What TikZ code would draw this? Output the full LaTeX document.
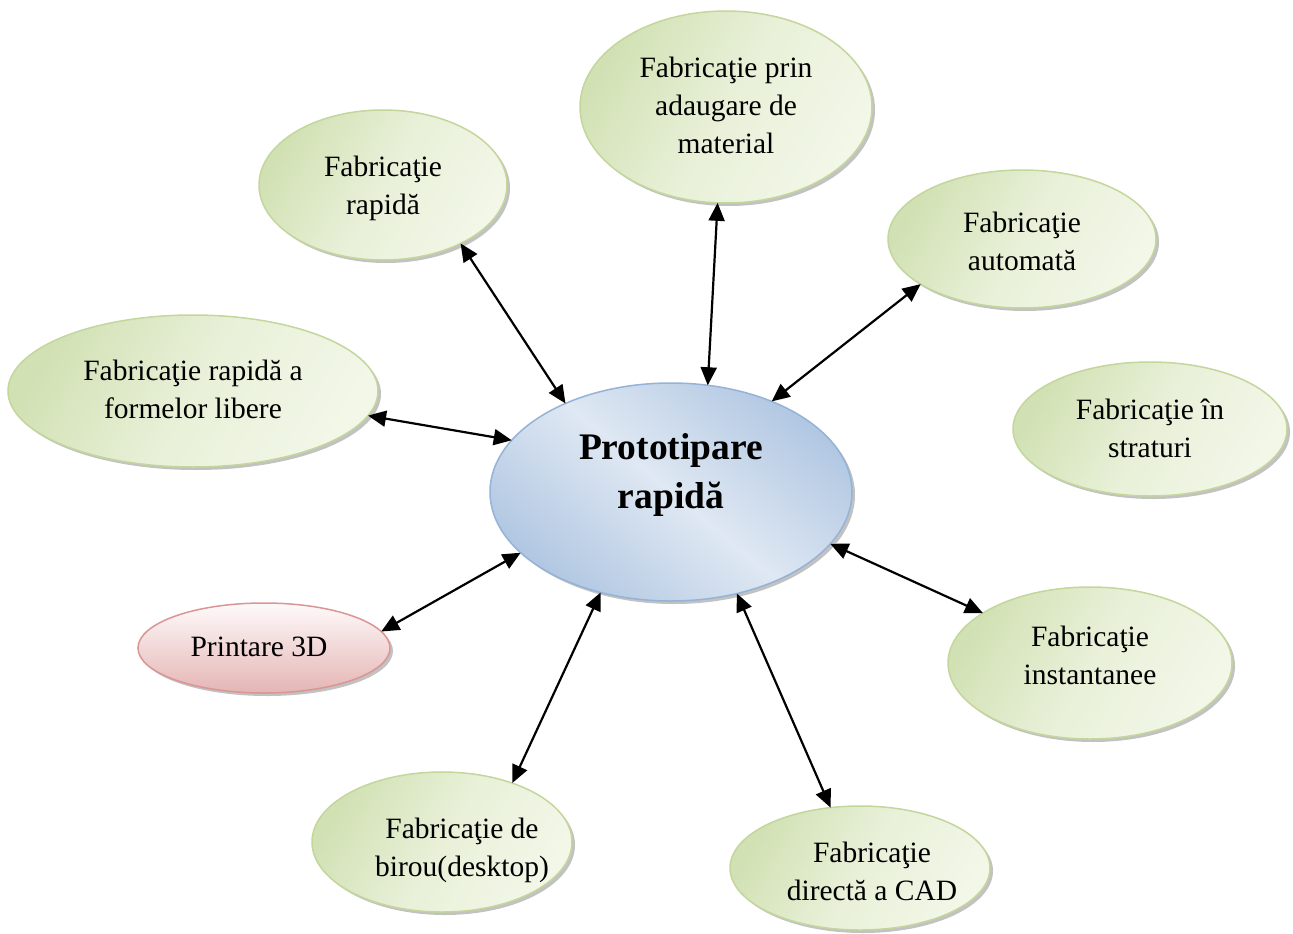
\documentclass[tikz,border=0pt]{standalone}
\usepackage{fontspec}
\setmainfont{Liberation Serif}
\usetikzlibrary{shapes.geometric,arrows.meta,shadows}
\definecolor{glight}{HTML}{F2F7E8}
\definecolor{gdark}{HTML}{D2E1B4}
\definecolor{gborder}{HTML}{C3D69B}
\definecolor{blight}{HTML}{DFE8F3}
\definecolor{bdark}{HTML}{B1C7E2}
\definecolor{bborder}{HTML}{95B3D7}
\definecolor{rlight}{HTML}{FEFAFA}
\definecolor{rdark}{HTML}{E4B5B4}
\definecolor{rborder}{HTML}{D99694}
\definecolor{shadowgray}{HTML}{8F8F8F}
\begin{document}
\begin{tikzpicture}[x=1pt,y=-1pt,
  base/.style={ellipse, inner sep=0pt, outer sep=0pt, line width=1.5pt,
    drop shadow={shadow xshift=3pt, shadow yshift=-3pt, fill=shadowgray, opacity=0.55}},
  greenell/.style={base, draw=gborder, left color=gdark, right color=glight, middle color=glight!70!gdark, shading angle=60},
  blueell/.style={base, draw=bborder, top color=bdark, bottom color=bdark, middle color=blight, shading angle=-40},
  redell/.style={base, draw=rborder, top color=rlight, bottom color=rdark},
  lbl/.style={font=\fontsize{29.5}{38}\selectfont, align=center, inner sep=0pt},
  mainlbl/.style={font=\bfseries\fontsize{37.5}{49}\selectfont, align=center, inner sep=0pt},
  link/.style={{Triangle[length=18pt,width=16pt]}-{Triangle[length=18pt,width=16pt]}, line width=2.2pt},
]
\useasboundingbox (0,0) rectangle (1293,934);

% ellipses
\node[blueell, minimum width=362pt, minimum height=218pt] (main) at (671,492) {};
\node[greenell, minimum width=292pt, minimum height=192pt] (top) at (726,107) {};
\node[greenell, minimum width=248pt, minimum height=150pt] (rap) at (383,185) {};
\node[greenell, minimum width=268pt, minimum height=138pt] (aut) at (1022,239) {};
\node[greenell, minimum width=370pt, minimum height=152pt] (lib) at (193,391) {};
\node[greenell, minimum width=274pt, minimum height=134pt] (str) at (1150,429) {};
\node[redell, minimum width=252pt, minimum height=90pt] (pr) at (264,648) {};
\node[greenell, minimum width=284pt, minimum height=152pt] (ins) at (1090,663) {};
\node[greenell, minimum width=260pt, minimum height=140pt] (bir) at (442,842) {};
\node[greenell, minimum width=260pt, minimum height=124pt] (cad) at (860,868) {};

% texts
\node[mainlbl] (mainT) at (671,475) {Prototipare\\rapidă};
\node[lbl] (topT) at (726,105) {Fabricaţie prin\\adaugare de\\material};
\node[lbl] (rapT) at (383,188) {Fabricaţie\\rapidă};
\node[lbl] (autT) at (1022,241) {Fabricaţie\\automată};
\node[lbl] (libT) at (193,389) {Fabricaţie rapidă a\\formelor libere};
\node[lbl] (strT) at (1150,428) {Fabricaţie în\\straturi};
\node[lbl] (prT) at (259,647) {Printare 3D};
\node[lbl] (insT) at (1090,655) {Fabricaţie\\instantanee};
\node[lbl] (birT) at (462,850) {Fabricaţie de\\birou(desktop)};
\node[lbl] (cadT) at (872,871) {Fabricaţie\\directă a CAD};

% connectors
\draw[link] (rap.-37.7) -- (main.140.8);
\draw[link] (top.-95.5) -- (main.71.9);
\draw[link] (aut.-156) -- (main.42.2);
\draw[link] (lib.-8.9) -- (main.162.9);
\draw[link] (pr.8.5) -- (main.-158.5);
\draw[link] (bir.40.9) -- (main.-125.3);
\draw[link] (cad.116.6) -- (main.-57.4);
\draw[link] (ins.155.2) -- (main.-18.1);
\end{tikzpicture}
\end{document}
